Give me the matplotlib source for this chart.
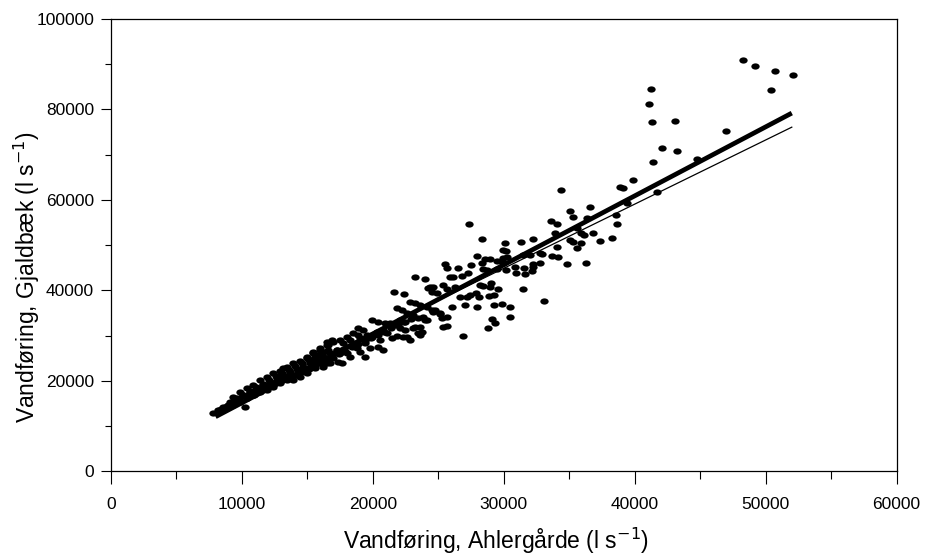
import matplotlib
matplotlib.use("Agg")
import matplotlib.pyplot as plt
from matplotlib.path import Path
from matplotlib.transforms import Affine2D
from matplotlib.ticker import MultipleLocator

plt.rcParams['font.family'] = ['Liberation Sans', 'DejaVu Sans']
plt.rcParams['mathtext.fontset'] = 'custom'
plt.rcParams['mathtext.rm'] = 'Liberation Sans'
plt.rcParams['mathtext.it'] = 'Liberation Sans'

# Daily discharge pairs: Ahlergårde (x) vs. Gjaldbæk (y), l/s
ahlergaarde = [
    48270, 49180, 50740, 52090, 50430, 41250, 41120, 41320, 43060, 46970,
    42110, 43260, 41400, 44760, 39850, 39130, 41680, 39390, 38880, 34350,
    36610, 35060, 35310, 33590, 34050, 36340, 38570, 38670, 33920, 35570,
    35880, 36130, 31300, 32260, 30100, 36840, 37350, 38250, 35060, 35270,
    35620, 35930, 34090, 32900, 33670, 34170, 36280, 34810, 29970, 29970,
    30860, 31550, 30940, 31630, 32220, 32770, 32140, 33080, 30230, 29970,
    31500, 32010, 32770, 32260,
    27350, 28320, 30180, 27990, 28570, 28960, 29470, 28320, 27510, 25520,
    25650, 26540, 28400, 28750, 29510, 30150, 27300, 26800, 26150, 25900,
    23210, 23990, 25390, 29010, 28190, 28440, 28960, 29590, 31450, 24380,
    24630, 25650, 26280, 27430, 27890, 28900, 29260, 22390, 26670, 27180,
    28140, 26030, 27050, 27940, 29260, 29850, 30480, 24760, 25140, 25270,
    25650, 23860, 24170, 25340, 25650, 23100, 23610, 23740, 29090, 29340,
    30480, 28830, 26920, 22340,
    21630, 24250, 24500, 24890, 22850, 23230, 23610, 24120, 24500, 21830,
    22220, 22600, 23100, 23480, 23990, 22090, 22470, 21320, 21700, 20430,
    20940, 19920, 22090, 22470, 23480, 23230, 20810, 21070, 20310, 18900,
    19280, 18520, 18900, 19540, 19920, 18020, 18270, 17510, 17760, 16870,
    16490, 16610, 19410, 19800, 20430, 20810, 18780, 19030, 18020, 18270,
    17250, 17510, 15980, 16230, 15470, 15730, 14960, 15210, 16990, 17380,
    16230, 16490, 19410, 19030, 20560, 21450, 21830, 22600, 22850, 23610,
    17630, 13180, 24630, 25140,
    7830, 8220, 8600, 8980, 10250,
    9360, 9870, 10380, 10890, 11400, 11910, 12410, 12920, 13440, 13940,
    14450, 14960, 15470, 15980, 16490, 16990,
    9360, 9870, 10380, 10890, 11400, 11910, 12410, 12920, 13440, 13940,
    14450, 14960, 15630, 16230, 16740,
    9110, 9620, 10120, 10630, 11150, 11650, 12160, 12670, 13180, 13690,
    14200, 14700, 15210, 15730, 16230, 16740, 17250,
    8400, 8900, 9400, 9900, 10400, 10900, 11400, 11900, 12400, 12900,
    13400, 13900, 14400, 14900, 15400, 15900, 16400, 16900, 17400, 17900,
    18400, 18900, 19400, 19900, 20400, 20900, 21400, 21900, 22400, 22900,
    9600, 10100, 10600, 11100, 11600, 12100, 12600, 13100, 13600, 14100,
    14600, 15100, 15600, 16100, 16600,
    9600, 10100, 10600, 11100, 11600, 12100, 12600, 13100, 13600, 14100,
    14600, 15100, 15600, 16100, 16600,
]

gjaldbaek = [
    90940, 89610, 88440, 87630, 84240, 84470, 81150, 77310, 77460, 75180,
    71490, 70830, 68330, 69060, 64420, 62720, 61700, 59270, 62870, 62280,
    58390, 57500, 56180, 55430, 54700, 56090, 56620, 54700, 52770, 53740,
    52770, 52270, 50790, 51320, 50430, 52640, 51010, 51540, 51160, 50720,
    49390, 50430, 49550, 48070, 47630, 47340, 46150, 45790, 48950, 47120,
    45260, 44910, 43800, 43650, 45790, 46010, 44310, 37680, 47480, 46010,
    47850, 47850, 48220, 45260,
    54700, 51320, 48800, 47630, 46900, 47030, 46590, 46150, 45640, 45790,
    44910, 44910, 44690, 44530, 44690, 44530, 43800, 43200, 42920, 43050,
    42920, 42480, 41220, 41720, 41220, 40990, 40710, 40260, 40260, 40710,
    40710, 40260, 40710, 39010, 39380, 38790, 39010, 39230, 38500, 38630,
    38500, 36420, 36800, 36420, 36800, 37020, 36290, 35690, 34810, 33860,
    34210, 34080, 33480, 32000, 32150, 31650, 31870, 30900, 33640, 32890,
    34080, 31650, 29950, 29790,
    39740, 40490, 39740, 39380, 37530, 37170, 36800, 36420, 35690, 36070,
    35690, 34960, 34590, 33860, 33480, 33480, 33110, 32750, 32380, 33110,
    32750, 33480, 31650, 31270, 30540, 32000, 31270, 30540, 30900, 31650,
    31270, 30540, 30170, 30170, 29790, 29790, 29060, 29060, 28330, 29060,
    28690, 27960, 28330, 27230, 27580, 26850, 27230, 26480, 26120, 25370,
    26850, 26120, 27230, 26480, 26480, 25750, 25370, 24640, 25020, 24270,
    23160, 23910, 25370, 29440, 29060, 29440, 29950, 29790, 29060, 30170,
    23910, 22810, 35320, 34960,
    12860, 13590, 14190, 14700, 14320,
    16530, 17640, 18390, 19120, 20220, 20950, 21700, 22280, 23160, 23910,
    24490, 25020, 26120, 26850, 27960, 28690,
    14700, 15430, 16180, 16910, 17640, 18010, 18740, 19490, 20220, 20220,
    20950, 21700, 22810, 23540, 23910,
    15430, 16180, 16910, 17640, 18390, 19120, 19850, 20600, 21330, 22060,
    22590, 23160, 23910, 24490, 25370, 26120, 26850,
    13400, 14300, 14900, 15600, 16300, 17000, 17700, 18400, 19000, 19700,
    20400, 21100, 21800, 22500, 23200, 23900, 24600, 25300, 26000, 26700,
    27400, 28100, 28800, 29500, 30200, 30900, 31600, 32300, 33000, 33700,
    15900, 16800, 17700, 18600, 19400, 20200, 21000, 21700, 22500, 23200,
    23900, 24600, 25400, 26200, 26900,
    15800, 16600, 17300, 18000, 18500, 19100, 19800, 20500, 21000, 21300,
    21900, 22700, 23600, 24200, 24600,
]

# Two fitted relations drawn over the observed range
fit_x = [8000, 52000]
fit_thick = [12100, 79200]
fit_thin = [13690, 76090]

x_ticks = [0, 10000, 20000, 30000, 40000, 50000, 60000]
y_ticks = [0, 20000, 40000, 60000, 80000, 100000]

fig = plt.figure(figsize=(9.31, 5.55), dpi=100)
ax = fig.add_axes([0.119, 0.1505, 0.844, 0.8153])

# Slightly flattened dot marker
ellipse = Path.unit_circle().transformed(Affine2D().scale(1.0, 0.75))
ax.plot(ahlergaarde, gjaldbaek, linestyle='none', marker=ellipse,
        markersize=6.0, color='black', markeredgewidth=0)

ax.plot(fit_x, fit_thick, color='black', linewidth=3.4, solid_capstyle='butt')
ax.plot(fit_x, fit_thin, color='black', linewidth=0.9)

ax.set_xlim(0, 60000)
ax.set_ylim(0, 100000)
ax.set_xticks(x_ticks)
ax.set_yticks(y_ticks)
ax.set_xticklabels([str(v) for v in x_ticks])
ax.set_yticklabels([str(v) for v in y_ticks])
ax.xaxis.set_minor_locator(MultipleLocator(5000))
ax.yaxis.set_minor_locator(MultipleLocator(10000))

ax.tick_params(axis='x', which='major', direction='out', length=9.5, width=0.8,
               labelsize=12.5, pad=9)
ax.tick_params(axis='x', which='minor', direction='out', length=5.5, width=0.8)
ax.tick_params(axis='y', which='major', direction='out', length=7, width=0.8,
               labelsize=12.5, pad=5)
ax.tick_params(axis='y', which='minor', direction='out', length=4.5, width=0.8)

for sp in ax.spines.values():
    sp.set_linewidth(0.9)
    sp.set_color('black')

ax.set_xlabel(r'Vandføring, Ahlergårde (l s$^{\mathsf{-1}}$)', fontsize=16.5)
ax.set_ylabel(r'Vandføring, Gjaldbæk (l s$^{\mathsf{-1}}$)', fontsize=16.5)
ax.yaxis.set_label_coords(-0.088, 0.43)
ax.xaxis.set_label_coords(0.49, -0.12)

fig.savefig('out.png', dpi=100, facecolor='white')
